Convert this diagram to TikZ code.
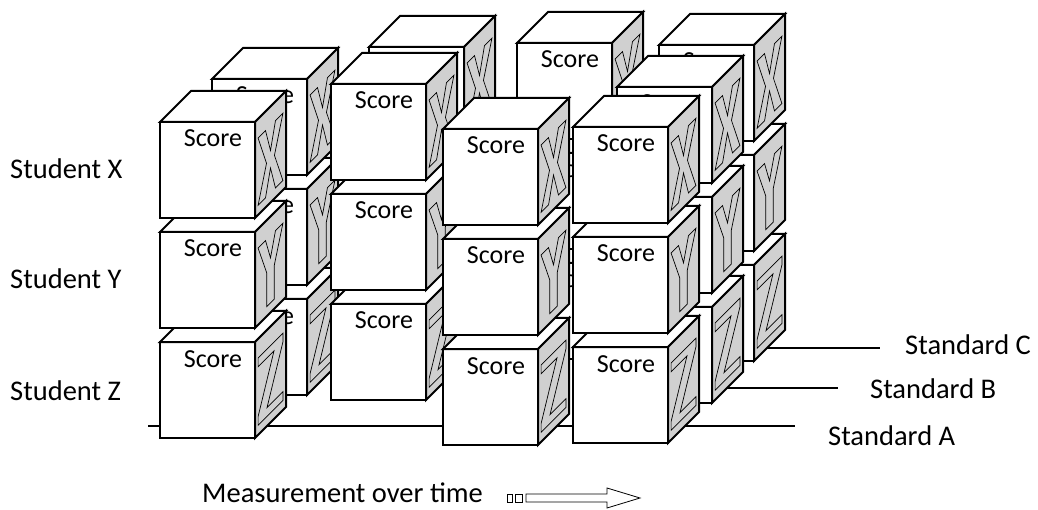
\documentclass[tikz,border=0pt]{standalone}
\usepackage{fontspec}
\setmainfont{Carlito}
\usepackage{tikz}
\definecolor{sidegray}{RGB}{208,208,208}

% letter outlines on the side faces, unit box
\newcommand{\letterX}{(0,0) -- (0.3,0) -- (0.5,0.37) -- (0.7,0) -- (1,0) -- (0.66,0.5) -- (1,1) -- (0.7,1) -- (0.5,0.63) -- (0.3,1) -- (0,1) -- (0.34,0.5) -- cycle}
\newcommand{\letterY}{(0,0) -- (0.3,0) -- (0.5,0.33) -- (0.7,0) -- (1,0) -- (0.65,0.5) -- (0.65,1) -- (0.35,1) -- (0.35,0.5) -- cycle}
\newcommand{\letterZ}{(0,0) -- (1,0) -- (1,0.13) -- (0.36,0.87) -- (1,0.87) -- (1,1) -- (0,1) -- (0,0.87) -- (0.64,0.13) -- (0,0.13) -- cycle}

% one cube: name, x, y (front top left), letter
\newcommand{\scorecube}[4]{%
\filldraw [cubeline] (#2,#3) rectangle ++(95,96);
\filldraw [cubeline] (#2,#3) -- ++(31,-31) -- ++(95,0) -- ++(-31,31) -- cycle;
\filldraw [cubeline,fill=sidegray] (#2+95,#3) -- ++(31,-31) -- ++(0,96) -- ++(-31,31) -- cycle;
\node [scoretext] (#1) at (#2+53,#3+25) {Score};
\begin{scope}[shift={(#2+98.1,#3+16.1)},x={(24.8pt,24.8pt)},y={(0pt,-67.2pt)}]
\draw [letterline] #4;
\end{scope}}

% three students stacked
\newcommand{\scorestack}[3]{%
\scorecube{#1-z}{#2}{#3+220}{\letterZ}
\scorecube{#1-y}{#2}{#3+110}{\letterY}
\scorecube{#1-x}{#2}{#3}{\letterX}}

\begin{document}
\begin{tikzpicture}[x=1pt,y=-1pt,
cubeline/.style={draw=black,line width=2pt,fill=white,line join=miter},
letterline/.style={black,line width=0.7pt,line join=miter},
scoretext/.style={anchor=base,font=\fontsize{26}{28}\selectfont},
axislabel/.style={anchor=base west,font=\fontsize{28.5}{30}\selectfont}]
\tikzstyle{every node}+=[inner sep=0pt]
\useasboundingbox (0,0) rectangle (1038,510);
% standard lines
\coordinate (a0) at (148,426);
\coordinate (a1) at (795,426);
\coordinate (b0) at (650,388);
\coordinate (b1) at (838,388);
\coordinate (c0) at (700,348);
\coordinate (c1) at (880,348);
\draw [line width=1.3pt] (a0) -- (a1);
\draw [line width=1.3pt] (b0) -- (b1);
\draw [line width=1.3pt] (c0) -- (c1);
% stacks, back to front
\scorestack{t4c}{659}{45}
\scorestack{t3c}{517}{43}
\scorestack{t2b}{369}{47}
\scorestack{t1b}{212}{79}
\scorestack{t2a}{331}{84}
\scorestack{t4b}{617}{87}
\scorestack{t1a}{160}{122}
\scorestack{t4a}{573}{127}
\scorestack{t3a}{443}{129}
% labels
\node [axislabel] (stx) at (10,179) {Student X};
\node [axislabel] (sty) at (10,289) {Student Y};
\node [axislabel] (stz) at (10,400) {Student Z};
\node [axislabel] (sdc) at (905,355) {Standard C};
\node [axislabel] (sdb) at (870,398) {Standard B};
\node [axislabel] (sda) at (828,445) {Standard A};
\node [axislabel] (time) at (202,502) {Measurement over time};
% arrow
\draw [line width=0.8pt] (507,494) rectangle (512,502);
\draw [line width=0.8pt] (515,494) rectangle (522,502);
\draw [line width=0.8pt] (526,494) -- (607,494) -- (607,488) -- (640,498) -- (607,508) -- (607,502) -- (526,502) -- cycle;
\end{tikzpicture}
\end{document}
